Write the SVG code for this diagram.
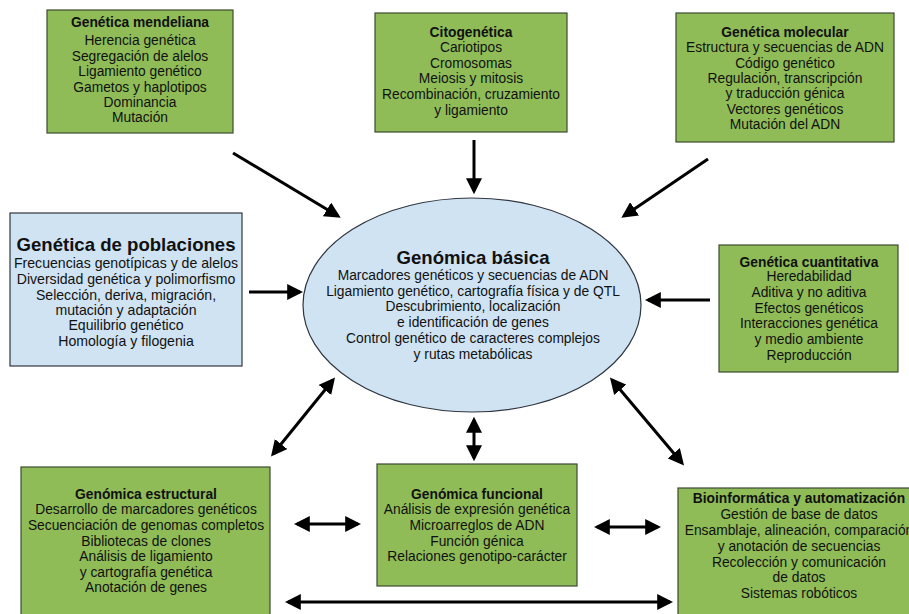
<svg xmlns="http://www.w3.org/2000/svg" width="909" height="614" viewBox="0 0 909 614">
<style>
.box{fill:#8fbc57;stroke:#3d4a33;stroke-width:1.2}
.blue{fill:#cfe3f3;stroke:#2f3640;stroke-width:1.2}
text{font-family:"Liberation Sans",Arial,sans-serif;fill:#111;text-anchor:middle}
.t{font-size:13.8px;font-weight:bold}
.b{font-size:13.8px}
.pb{font-size:14.1px}
.conn path{fill:none;stroke:#000;stroke-width:3}
</style>
<defs>
<marker id="ah" viewBox="0 0 10 10" refX="8" refY="5" markerWidth="16" markerHeight="16" markerUnits="userSpaceOnUse" orient="auto-start-reverse">
<path d="M0,0 L10,5 L0,10 z" fill="#000"/>
</marker>
</defs>
<rect width="909" height="614" fill="#fff"/>

<g id="mendeliana">
<rect class="box" x="47" y="10" width="186" height="123"/>
<text class="t" x="140" y="27">Genética mendeliana</text>
<text class="b" x="140" y="45">Herencia genética</text>
<text class="b" x="140" y="61">Segregación de alelos</text>
<text class="b" x="140" y="76">Ligamiento genético</text>
<text class="b" x="140" y="92">Gametos y haplotipos</text>
<text class="b" x="140" y="107">Dominancia</text>
<text class="b" x="140" y="122">Mutación</text>
</g>

<g id="citogenetica">
<rect class="box" x="375" y="13" width="192" height="119"/>
<text class="t" x="471" y="37">Citogenética</text>
<text class="b" x="471" y="52">Cariotipos</text>
<text class="b" x="471" y="68">Cromosomas</text>
<text class="b" x="471" y="83">Meiosis y mitosis</text>
<text class="b" x="471" y="99">Recombinación, cruzamiento</text>
<text class="b" x="471" y="115">y ligamiento</text>
</g>

<g id="molecular">
<rect class="box" x="676" y="13" width="218" height="129"/>
<text class="t" x="785" y="37">Genética molecular</text>
<text class="b" x="785" y="52">Estructura y secuencias de ADN</text>
<text class="b" x="785" y="68">Código genético</text>
<text class="b" x="785" y="83">Regulación, transcripción</text>
<text class="b" x="785" y="98">y traducción génica</text>
<text class="b" x="785" y="114">Vectores genéticos</text>
<text class="b" x="785" y="129">Mutación del ADN</text>
</g>

<g id="poblaciones">
<rect class="blue" x="10" y="213" width="232" height="153"/>
<text x="126" y="251" style="font-size:18.6px;font-weight:bold">Genética de poblaciones</text>
<text class="pb" x="126" y="268">Frecuencias genotípicas y de alelos</text>
<text class="pb" x="126" y="284">Diversidad genética y polimorfismo</text>
<text class="pb" x="126" y="300">Selección, deriva, migración,</text>
<text class="pb" x="126" y="315">mutación y adaptación</text>
<text class="pb" x="126" y="330">Equilibrio genético</text>
<text class="pb" x="126" y="346">Homología y filogenia</text>
</g>

<g id="genomica-basica">
<ellipse class="blue" cx="472" cy="305" rx="169" ry="107"/>
<text x="473" y="264" style="font-size:18.6px;font-weight:bold">Genómica básica</text>
<text class="b" x="473" y="280">Marcadores genéticos y secuencias de ADN</text>
<text class="b" x="473" y="296">Ligamiento genético, cartografía física y de QTL</text>
<text class="b" x="473" y="311">Descubrimiento, localización</text>
<text class="b" x="473" y="327">e identificación de genes</text>
<text class="b" x="473" y="343">Control genético de caracteres complejos</text>
<text class="b" x="473" y="359">y rutas metabólicas</text>
</g>

<g id="cuantitativa">
<rect class="box" x="719" y="245" width="179" height="127"/>
<text class="t" x="809" y="267">Genética cuantitativa</text>
<text class="b" x="809" y="281">Heredabilidad</text>
<text class="b" x="809" y="297">Aditiva y no aditiva</text>
<text class="b" x="809" y="313">Efectos genéticos</text>
<text class="b" x="809" y="328">Interacciones genética</text>
<text class="b" x="809" y="344">y medio ambiente</text>
<text class="b" x="809" y="360">Reproducción</text>
</g>

<g id="estructural">
<rect class="box" x="21" y="467" width="249" height="160"/>
<text class="t" x="146" y="499">Genómica estructural</text>
<text class="b" x="146" y="514">Desarrollo de marcadores genéticos</text>
<text class="b" x="146" y="530">Secuenciación de genomas completos</text>
<text class="b" x="146" y="546">Bibliotecas de clones</text>
<text class="b" x="146" y="561">Análisis de ligamiento</text>
<text class="b" x="146" y="577">y cartografía genética</text>
<text class="b" x="146" y="592">Anotación de genes</text>
</g>

<g id="funcional">
<rect class="box" x="377" y="464" width="200" height="122"/>
<text class="t" x="477" y="499">Genómica funcional</text>
<text class="b" x="477" y="514">Análisis de expresión genética</text>
<text class="b" x="477" y="530">Microarreglos de ADN</text>
<text class="b" x="477" y="546">Función génica</text>
<text class="b" x="477" y="561">Relaciones genotipo-carácter</text>
</g>

<g id="bioinformatica">
<rect class="box" x="678" y="488" width="250" height="140"/>
<text class="t" x="799" y="503">Bioinformática y automatización</text>
<text class="b" x="799" y="519">Gestión de base de datos</text>
<text class="b" x="799" y="535">Ensamblaje, alineación, comparación</text>
<text class="b" x="799" y="551">y anotación de secuencias</text>
<text class="b" x="799" y="567">Recolección y comunicación</text>
<text class="b" x="799" y="582">de datos</text>
<text class="b" x="799" y="598">Sistemas robóticos</text>
</g>

<g id="connectors" class="conn">
<path d="M233,153 L338,216" marker-end="url(#ah)"/>
<path d="M474,140 L474,191" marker-end="url(#ah)"/>
<path d="M708,159 L624,216" marker-end="url(#ah)"/>
<path d="M249,292 L300,292" marker-end="url(#ah)"/>
<path d="M710,300 L648,300" marker-end="url(#ah)"/>
<path d="M273,454 L333,380" marker-start="url(#ah)" marker-end="url(#ah)"/>
<path d="M474,420 L474,458" marker-start="url(#ah)" marker-end="url(#ah)"/>
<path d="M612,380 L682,463" marker-start="url(#ah)" marker-end="url(#ah)"/>
<path d="M297,524 L358,524" marker-start="url(#ah)" marker-end="url(#ah)"/>
<path d="M597,527 L658,527" marker-start="url(#ah)" marker-end="url(#ah)"/>
<path d="M288,602 L670,602" marker-start="url(#ah)" marker-end="url(#ah)"/>
</g>
</svg>
